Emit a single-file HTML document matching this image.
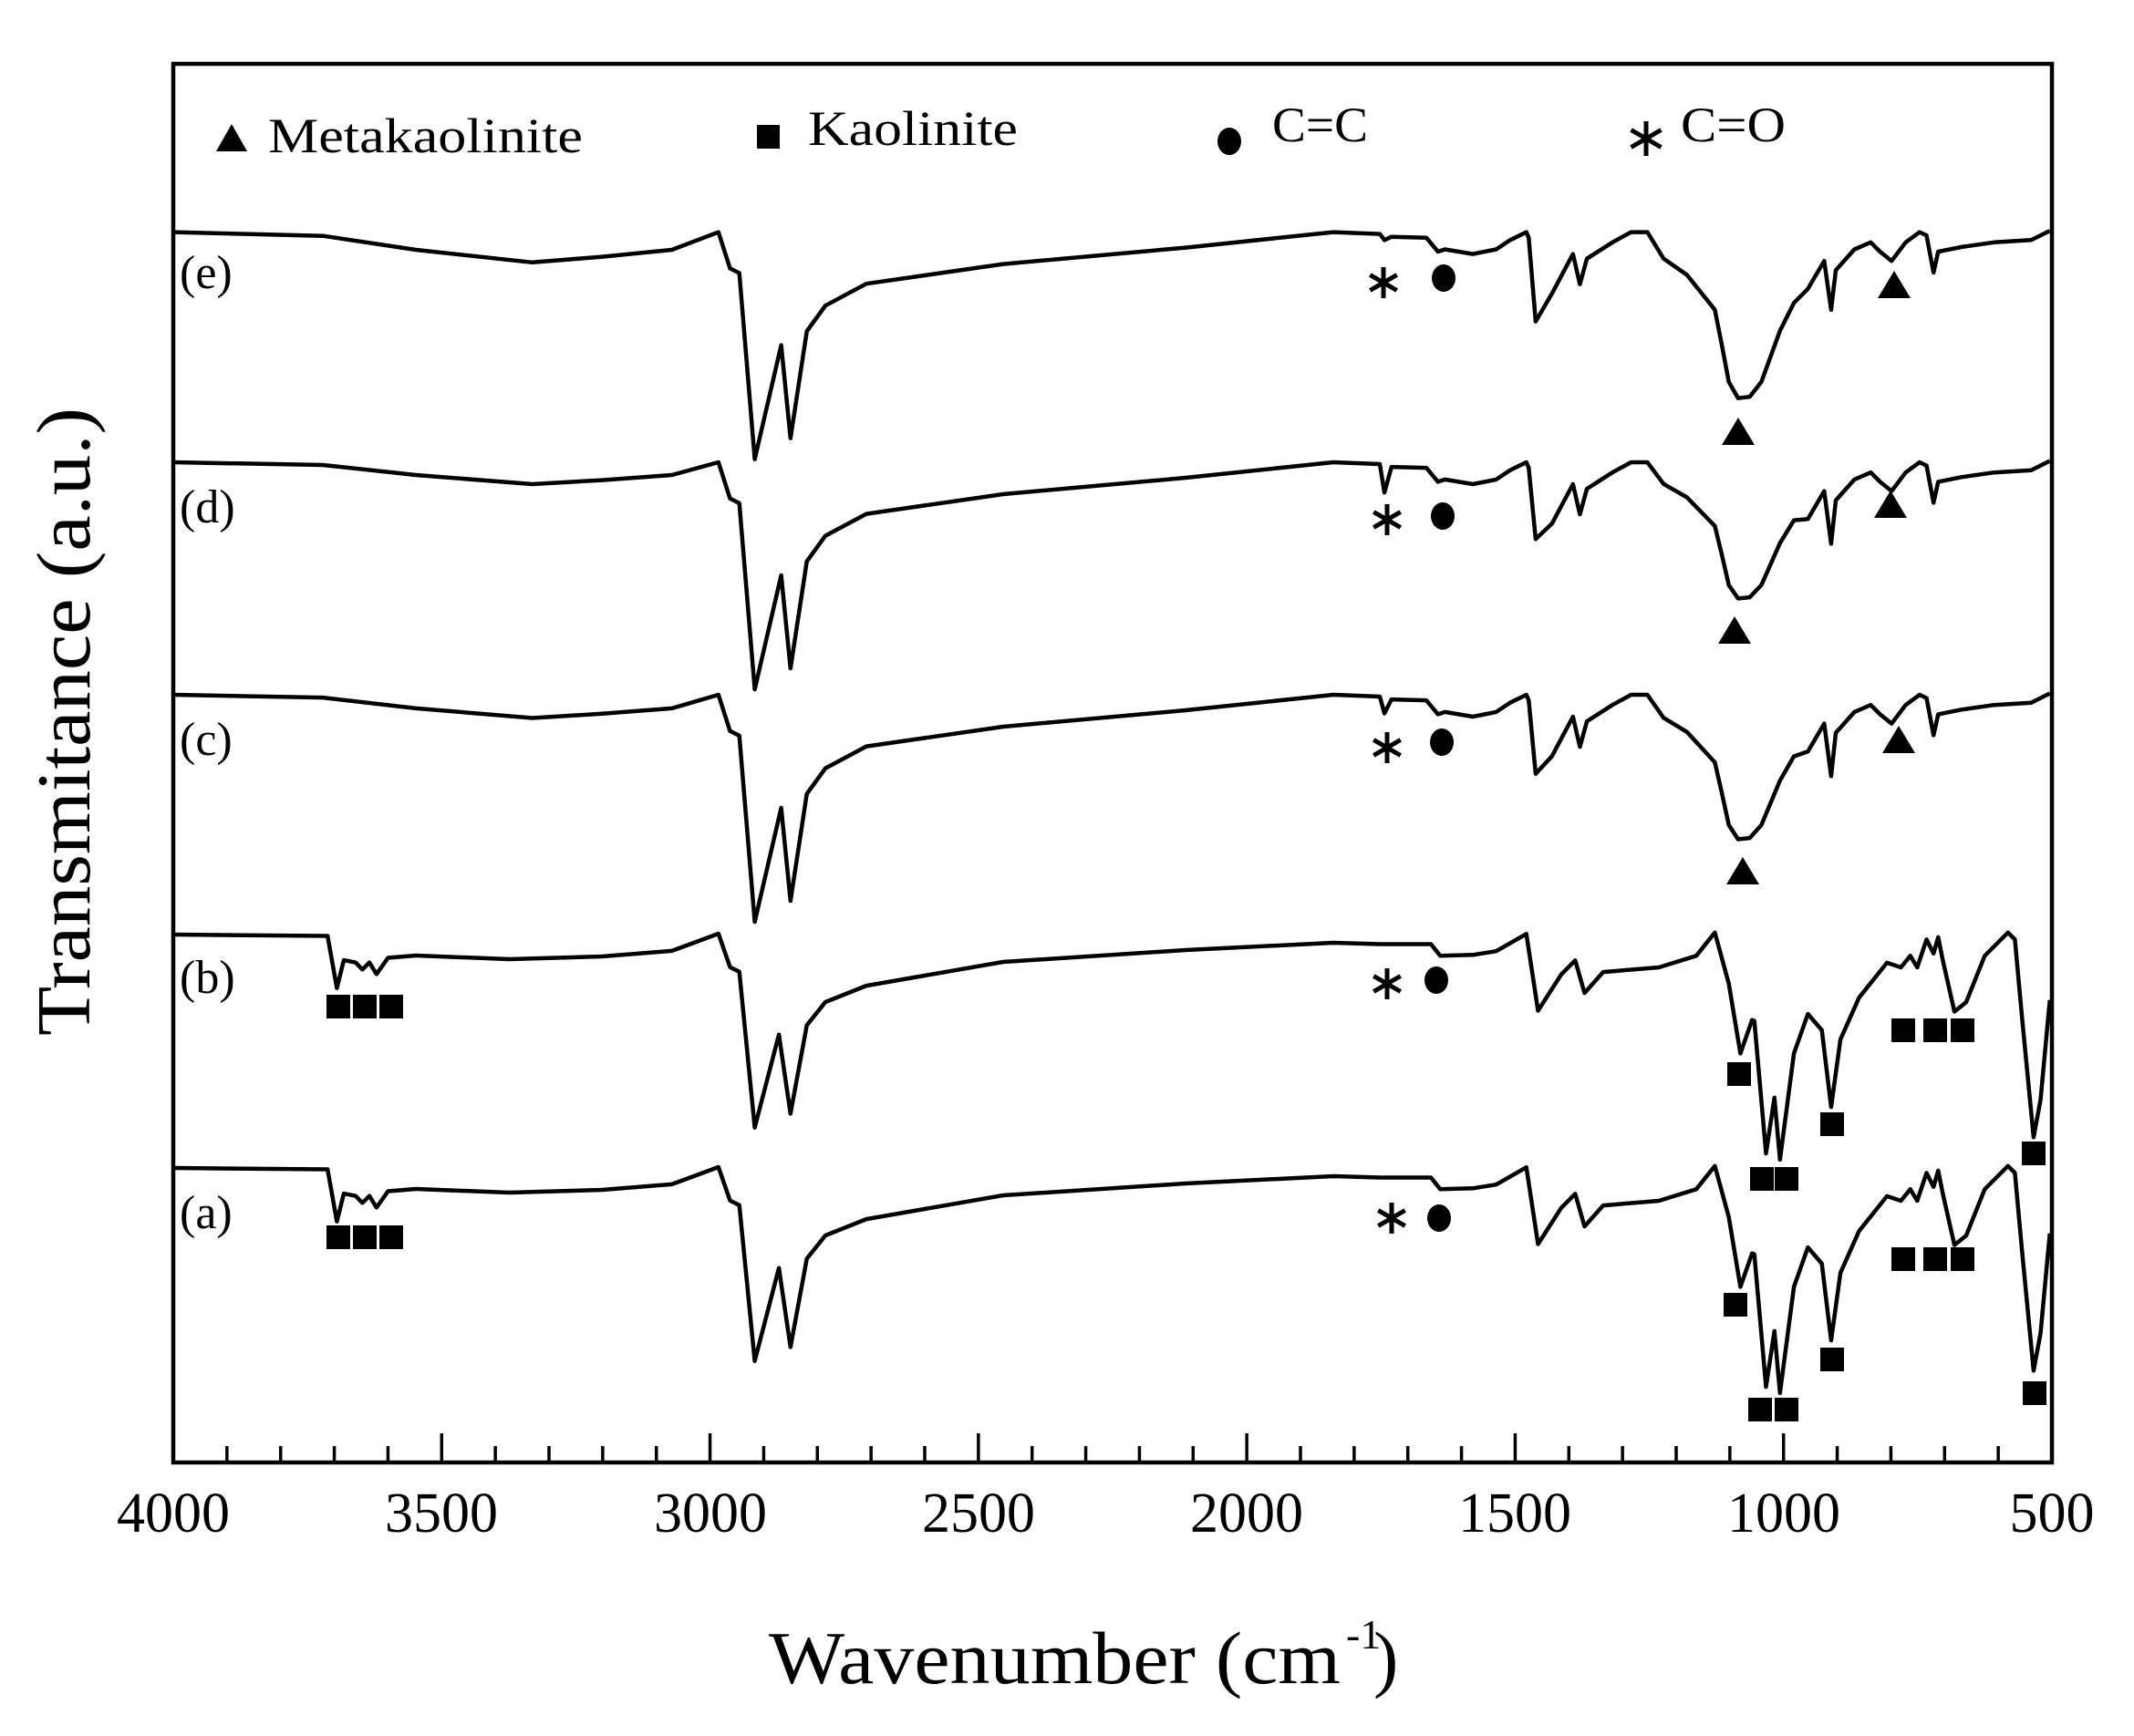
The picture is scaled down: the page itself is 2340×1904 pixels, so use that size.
<!DOCTYPE html>
<html><head><meta charset="utf-8"><style>
html,body{margin:0;padding:0;background:#fff;}
svg{display:block;}
text{font-family:"Liberation Serif",serif;fill:#000;}
</style></head><body>
<svg id="s" xmlns="http://www.w3.org/2000/svg" width="2340" height="1904" viewBox="0 0 2340 1904">
<rect x="0" y="0" width="2340" height="1904" fill="#fff"/>
<g id="plot"></g>
<rect x="190" y="70" width="2060" height="1534" fill="none" stroke="#000" stroke-width="4.5"/>
<g id="ticks" stroke="#000" stroke-width="3.5"></g>
<g font-size="62" text-anchor="middle">
<text x="190" y="1680">4000</text><text x="484" y="1680">3500</text><text x="779" y="1680">3000</text>
<text x="1073" y="1680">2500</text><text x="1367" y="1680">2000</text><text x="1661" y="1680">1500</text>
<text x="1956" y="1680">1000</text><text x="2250" y="1680">500</text>
</g>
<text x="843" y="1846" font-size="82" textLength="627" lengthAdjust="spacingAndGlyphs">Wavenumber (cm</text>
<text x="1476" y="1808" font-size="46">-1</text>
<text x="1506" y="1846" font-size="82">)</text>
<text transform="translate(98,1136) rotate(-90)" font-size="84" textLength="689" lengthAdjust="spacingAndGlyphs">Transmitance (a.u.)</text>
<!-- legend -->
<polygon points="237,166 271,166 254,136" fill="#000"/>
<text x="294" y="167" font-size="54" textLength="345" lengthAdjust="spacingAndGlyphs">Metakaolinite</text>
<rect x="830" y="137" width="25" height="26" fill="#000"/>
<text x="886" y="159" font-size="54" textLength="230" lengthAdjust="spacingAndGlyphs">Kaolinite</text>
<ellipse cx="1348" cy="155" rx="13" ry="15" fill="#000"/>
<text x="1395" y="155" font-size="54" textLength="105" lengthAdjust="spacingAndGlyphs">C=C</text>
<g id="legstar"></g>
<text x="1843" y="155" font-size="54" textLength="115" lengthAdjust="spacingAndGlyphs">C=O</text>
<g font-size="52">
<text x="197" y="316">(e)</text><text x="197" y="573">(d)</text><text x="197" y="828">(c)</text>
<text x="197" y="1089">(b)</text><text x="197" y="1347">(a)</text>
</g>
<g id="marks" fill="#000"></g>
</svg>
<script>
var NS="http://www.w3.org/2000/svg";
function el(t,a,p){var e=document.createElementNS(NS,t);for(var k in a)e.setAttribute(k,a[k]);p.appendChild(e);return e;}
var plot=document.getElementById('plot'),ticks=document.getElementById('ticks'),marks=document.getElementById('marks');
for(var w=4000;w>=500;w-=100){var x=190+(4000-w)*2060/3500;var L=(w%500==0)?32:18;el('line',{x1:x,y1:1604,x2:x,y2:1604-L},ticks);}
var leftM=[[78,0],[400,8],[600,38],[850,65],[1000,53],[1150,38],[1250,0],[1275,78],[1295,88],[1328,488],[1385,243],[1405,443],[1440,213],[1480,158],[1568,111]];
var rightM=[[0,0],[100,4],[110,17],[125,10],[200,12],[225,42],[240,37],[300,47],[350,37],[380,17],[415,0],[420,12],[435,192],[470,132],[515,47],[530,112],[545,57],[600,22],[640,0],[675,0],[710,57],[760,92],[800,142],[820,167],[835,242],[850,322],[870,357],[895,354],[920,322],[960,212],[990,152],[1020,122],[1055,62],[1070,167],[1080,82],[1120,37],[1155,22],[1175,42],[1200,62],[1230,22],[1260,0],[1275,7],[1290,87],[1300,42],[1350,32],[1420,22],[1500,17],[1540,-3]];
function metak(y0,sag,star,band,ch2){
  var p=[];
  leftM.forEach(function(q){var r=q[1];if(q[0]>=400&&q[0]<=1150)r=r*sag/65;p.push([150+q[0]/1.96,y0+r/1.96]);});
  p.push([1100,y0+35],[1300,y0+17]);
  rightM.forEach(function(q){var r=q[1];var x=q[0];
    if(x==110)r=star;
    if(x>=710&&x<=990)r=r*band;
    if(x==435)r=ch2[0];
    if(x==1070)r=ch2[1];
    p.push([1462+x/1.96,y0+r/1.96]);});
  return p;
}
var leftK=[[78,0],[410,3],[430,115],[445,55],[470,60],[485,75],[500,60],[515,85],[540,50],[600,45],[800,53],[1000,47],[1150,35],[1250,-2],[1275,70],[1295,80],[1328,415],[1380,215],[1405,385],[1440,195],[1480,145],[1568,110]];
var rightK=[[0,262],[100,265],[210,265],[230,290],[300,288],[350,280],[415,243],[440,408],[490,330],[520,300],[540,370],[580,325],[700,315],[780,290],[820,240],[850,350],[875,500],[900,428],[905,430],[930,715],[948,595],[960,728],[990,500],[1020,415],[1050,450],[1070,615],[1090,470],[1130,380],[1190,305],[1220,315],[1240,290],[1255,315],[1275,255],[1290,285],[1300,250],[1310,300],[1335,410],[1360,390],[1400,290],[1450,240],[1465,255],[1480,420],[1505,680],[1520,600],[1540,385]];
function kaol(y0){
  var p=[];
  leftK.forEach(function(q){p.push([150+q[0]/1.96,y0+q[1]/1.96]);});
  p.push([1100,y0+30],[1300,y0+17]);
  rightK.forEach(function(q){p.push([1462+q[0]/1.96,y0+9+(q[1]-262)/1.96]);});
  return p;
}
function draw(p){var d='M'+p.map(function(q){return q[0].toFixed(1)+','+q[1].toFixed(1);}).join(' L');
  el('path',{d:d,fill:'none',stroke:'#000','stroke-width':4.5,'stroke-linejoin':'round'},plot);}
draw(metak(254.6,65,17,1,[192,167]));
draw(metak(507,47,65,0.82,[165,175]));
draw(metak(762,50,40,0.87,[170,175]));
draw(kaol(1025));
draw(kaol(1281));
function star(cx,cy,r,g){for(var i=0;i<3;i++){var a=Math.PI/2+i*Math.PI/3;el('line',{x1:cx-r*Math.cos(a),y1:cy-r*Math.sin(a),x2:cx+r*Math.cos(a),y2:cy+r*Math.sin(a),stroke:'#000','stroke-width':5},g);}}
function tri(cx,cy){el('polygon',{points:(cx-18)+','+(cy+15)+' '+(cx+18)+','+(cy+15)+' '+cx+','+(cy-15)},marks);}
function sq(cx,cy){el('rect',{x:cx-13,y:cy-13,width:26,height:26},marks);}
function dot(cx,cy){el('ellipse',{cx:cx,cy:cy,rx:13,ry:15},marks);}
star(1805,152,19,document.getElementById('legstar'));
star(1517,310,17,marks);dot(1583,305);tri(1906,473);tri(2077,312);
star(1521,570,17,marks);dot(1582,566);tri(1902,691);tri(2073,553);
star(1521,820,17,marks);dot(1581,814);tri(1911,955);tri(2082,811);
star(1521,1079,17,marks);dot(1575,1075);
[371,400,429].forEach(function(x){sq(x,1104);});
sq(1907,1178);sq(1932,1293);sq(1959,1293);sq(2009,1233);sq(2087,1130);sq(2122,1130);sq(2152,1130);sq(2230,1265);
star(1526,1336,17,marks);dot(1578,1336);
[371,400,429].forEach(function(x){sq(x,1357);});
sq(1903,1431);sq(1930,1546);sq(1959,1546);sq(2009,1491);sq(2087,1381);sq(2122,1381);sq(2152,1381);sq(2231,1528);
</script>
</body></html>
